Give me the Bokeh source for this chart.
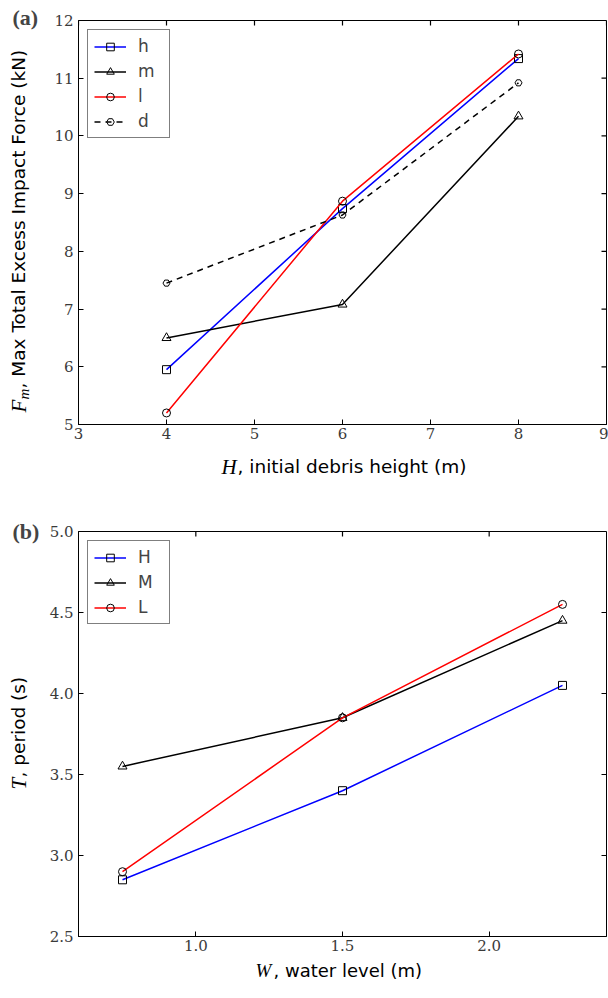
import math

from bokeh.embed import file_html
from bokeh.layouts import column
from bokeh.models import (FixedTicker, Label, Legend, LegendItem,
                          NumeralTickFormatter, Range1d)
from bokeh.plotting import figure
from bokeh.resources import INLINE

# ---- (a) impact force vs. initial debris height ----
debris_height = [4, 6, 8]
force_h = [5.95, 8.74, 11.34]
force_m = [6.50, 7.08, 10.34]
force_l = [5.20, 8.87, 11.42]
force_d = [7.45, 8.63, 10.92]
ticks_a_x = [3, 4, 5, 6, 7, 8, 9]
ticks_a_y = [5, 6, 7, 8, 9, 10, 11, 12]

# ---- (b) period vs. water level ----
water_level = [0.75, 1.5, 2.25]
period_H = [2.85, 3.40, 4.05]
period_M = [3.55, 3.85, 4.45]
period_L = [2.90, 3.85, 4.55]
ticks_b_x = [1.0, 1.5, 2.0]
ticks_b_y = [2.5, 3.0, 3.5, 4.0, 4.5, 5.0]

TICK_FONT = "DejaVu Serif"
SANS = "DejaVu Sans"
MATH = "Liberation Serif"
TICK_LEN = 5

# page geometry: frame (a) spans y 20..424, frame (b) spans y 531..936
FRAME_W = 528
A_TOP, A_FRAME_H, A_BOTTOM = 20, 404, 90
B_TOP, B_FRAME_H, B_BOTTOM = 17, 405, 62
A_HEIGHT = A_TOP + A_FRAME_H + A_BOTTOM
B_HEIGHT = B_TOP + B_FRAME_H + B_BOTTOM


def make_fig(height, xr, yr, border_top, border_bottom):
    p = figure(width=608, height=height, x_range=Range1d(*xr), y_range=Range1d(*yr),
               output_backend="svg", toolbar_location=None,
               min_border_left=78, min_border_right=2,
               min_border_top=border_top, min_border_bottom=border_bottom)
    p.grid.visible = False
    p.outline_line_color = "black"
    p.outline_line_width = 1
    p.background_fill_color = "white"
    p.border_fill_color = "white"
    return p


def style_axes(p, xticks, yticks, frame_h, fmt=None):
    p.xaxis.ticker = FixedTicker(ticks=xticks)
    p.yaxis.ticker = FixedTicker(ticks=yticks)
    if fmt:
        p.xaxis.formatter = NumeralTickFormatter(format=fmt)
        p.yaxis.formatter = NumeralTickFormatter(format=fmt)
    for ax in p.xaxis + p.yaxis:
        ax.major_tick_in = TICK_LEN
        ax.major_tick_out = 0
        ax.minor_tick_line_color = None
        ax.axis_line_color = "black"
        ax.major_tick_line_color = "black"
        ax.major_label_text_font = TICK_FONT
        ax.major_label_text_font_size = "15px"
        ax.major_label_text_color = "#3a3a3a"
        ax.major_label_standoff = 5
    p.xaxis.major_label_standoff = 3
    # mirrored inward ticks on the top and right edges of the frame
    xr, yr = p.x_range, p.y_range
    dy = TICK_LEN * (yr.end - yr.start) / frame_h
    dx = TICK_LEN * (xr.end - xr.start) / FRAME_W
    p.segment(x0=xticks, y0=[yr.end] * len(xticks), x1=xticks,
              y1=[yr.end - dy] * len(xticks), line_color="black", line_width=1.2)
    p.segment(x0=[xr.end] * len(yticks), y0=yticks, x1=[xr.end - dx] * len(yticks),
              y1=yticks, line_color="black", line_width=1.2)


def series(p, x, y, color, marker, size, dash="solid"):
    ln = p.line(x, y, line_color=color, line_width=1.5, line_dash=dash)
    sc = p.scatter(x, y, marker=marker, size=size, fill_color=None,
                   line_color="black", line_width=1)
    return [ln, sc]


def add_legend(p, entries):
    leg = Legend(items=[LegendItem(label=t, renderers=r) for t, r in entries],
                 location="top_left", margin=9, padding=6, spacing=5,
                 glyph_width=32, glyph_height=19, label_height=19, label_width=25,
                 label_standoff=12, label_text_font=SANS, label_text_font_size="17px",
                 border_line_color="black", border_line_width=1,
                 background_fill_alpha=1.0)
    p.add_layout(leg)


def panel_title(p, text, standoff):
    # bold panel tag drawn by the figure's own title, left of the frame
    p.title.text = text
    p.title.text_font = MATH
    p.title.text_font_size = "22px"
    p.title.text_font_style = "bold"
    p.title.align = "left"
    p.title.vertical_align = "bottom"
    p.title.offset = 12 - 78
    p.title.standoff = standoff


def labeller(p, top_on_page):
    # returns a function placing text at a page position (canvas units)
    def put(side, px, py, text, font, size, style="normal", angle=0.0):
        p.add_layout(Label(x=px, y=py - top_on_page, x_units="canvas",
                           y_units="canvas", text=text, text_font=font,
                           text_font_size=size, text_font_style=style, angle=angle,
                           text_align="left", text_baseline="middle",
                           text_color="black"), side)
    return put


# ---------------- panel (a) ----------------
pa = make_fig(A_HEIGHT, (3, 9), (5, 12), A_TOP, A_BOTTOM)
style_axes(pa, ticks_a_x, ticks_a_y, A_FRAME_H)
ra_h = series(pa, debris_height, force_h, "blue", "square", 8)
ra_m = series(pa, debris_height, force_m, "black", "triangle", 9)
ra_l = series(pa, debris_height, force_l, "red", "circle", 8)
ra_d = series(pa, debris_height, force_d, "black", "hex", 7, dash="6 5")
add_legend(pa, [("h", ra_h), ("m", ra_m), ("l", ra_l), ("d", ra_d)])
panel_title(pa, "(a)", -19.5)

put_a = labeller(pa, 0)
put_a("below", 221, 466, "H", MATH, "21px", style="italic")
put_a("below", 237, 466, ", initial debris height (m)", SANS, "18.5px")
put_a("left", 18, 412, "F", MATH, "21px", style="italic", angle=math.pi / 2)
put_a("below", 23, 399, "m", MATH, "15px", style="italic", angle=math.pi / 2)
put_a("left", 18, 388, ", Max Total Excess Impact Force (kN)", SANS, "18.5px",
      angle=math.pi / 2)

# ---------------- panel (b) ----------------
pb = make_fig(B_HEIGHT, (0.6, 2.4), (2.5, 5.0), B_TOP, B_BOTTOM)
style_axes(pb, ticks_b_x, ticks_b_y, B_FRAME_H, fmt="0.0")
rb_H = series(pb, water_level, period_H, "blue", "square", 8)
rb_M = series(pb, water_level, period_M, "black", "triangle", 9)
rb_L = series(pb, water_level, period_L, "red", "circle", 8)
add_legend(pb, [("H", rb_H), ("M", rb_M), ("L", rb_L)])
panel_title(pb, "(b)", -25.5)

put_b = labeller(pb, A_HEIGHT)
put_b("below", 255, 970, "W", MATH, "19px", style="italic")
put_b("below", 273, 970, ", water level (m)", SANS, "18px")
put_b("left", 18, 789, "T", MATH, "21px", style="italic", angle=math.pi / 2)
put_b("left", 18, 777, ", period (s)", SANS, "18.5px", angle=math.pi / 2)

layout = column(pa, pb, spacing=0)
open("out.html", "w").write(file_html(layout, INLINE))
